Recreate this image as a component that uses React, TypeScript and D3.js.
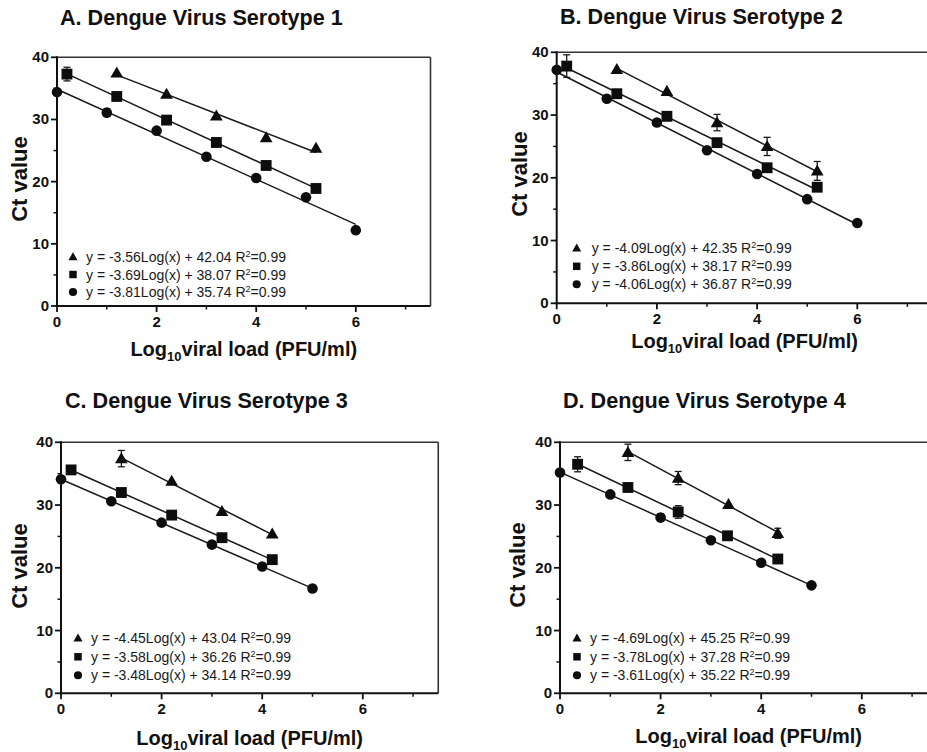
import React from "react";
import * as d3 from "d3";

// ---------- DATA ----------
// each point: [log10 viral load, Ct value, error (sd)]
const aTriangle = [[1.2, 37.5, 0], [2.2, 34.1, 0], [3.2, 30.6, 0], [4.2, 27.1, 0], [5.2, 25.4, 0]];
const aSquare = [[0.2, 37.3, 1.1], [1.2, 33.7, 0], [2.2, 29.9, 0], [3.2, 26.3, 0], [4.2, 22.6, 0], [5.2, 18.9, 0]];
const aCircle = [[0, 34.4, 0], [1, 31.1, 0.6], [2, 28.2, 0], [3, 24.0, 0], [4, 20.6, 0], [5, 17.5, 0], [6, 12.2, 0]];

const bTriangle = [[1.2, 37.3, 0], [2.2, 33.8, 0], [3.2, 28.8, 1.3], [4.2, 25.0, 1.45], [5.2, 21.1, 1.5]];
const bSquare = [[0.2, 37.8, 1.8], [1.2, 33.4, 0], [2.2, 29.8, 0], [3.2, 25.6, 0], [4.2, 21.6, 0.6], [5.2, 18.5, 0]];
const bCircle = [[0, 37.2, 0], [1, 32.6, 0], [2, 28.8, 0], [3, 24.4, 0], [4, 20.6, 0], [5, 16.6, 0], [6, 12.8, 0]];

const cTriangle = [[1.2, 37.4, 1.3], [2.2, 33.8, 0], [3.2, 29.0, 0], [4.2, 25.4, 0]];
const cSquare = [[0.2, 35.6, 0.5], [1.2, 32.0, 0], [2.2, 28.4, 0], [3.2, 24.8, 0], [4.2, 21.3, 0]];
const cCircle = [[0, 34.1, 0], [1, 30.6, 0], [2, 27.2, 0], [3, 23.7, 0], [4, 20.2, 0], [5, 16.7, 0]];

const dTriangle = [[1.35, 38.4, 1.3], [2.35, 34.3, 1.05], [3.35, 30.1, 0], [4.33, 25.5, 0.8]];
const dSquare = [[0.35, 36.5, 1.2], [1.35, 32.8, 0], [2.35, 28.9, 1.0], [3.33, 25.1, 0], [4.33, 21.4, 0]];
const dCircle = [[0, 35.2, 0], [1, 31.7, 0], [2, 28.0, 0.6], [3, 24.4, 0], [4, 20.8, 0], [5, 17.2, 0]];

const titles = [
  "A. Dengue Virus Serotype 1",
  "B. Dengue Virus Serotype 2",
  "C. Dengue Virus Serotype 3",
  "D. Dengue Virus Serotype 4",
];

// legend equations: [before superscript, after]
const aEquations = ["y = -3.56Log(x) + 42.04 R", "y = -3.69Log(x) + 38.07 R", "y = -3.81Log(x) + 35.74 R"];
const bEquations = ["y = -4.09Log(x) + 42.35 R", "y = -3.86Log(x) + 38.17 R", "y = -4.06Log(x) + 36.87 R"];
const cEquations = ["y = -4.45Log(x) + 43.04 R", "y = -3.58Log(x) + 36.26 R", "y = -3.48Log(x) + 34.14 R"];
const dEquations = ["y = -4.69Log(x) + 45.25 R", "y = -3.78Log(x) + 37.28 R", "y = -3.61Log(x) + 35.22 R"];
const rSquared = "=0.99";

const xMajorTicks = [0, 2, 4, 6];
const xMinorTicks = [1, 3, 5, 7];
const yMajorTicks = [0, 10, 20, 30, 40];
const yMinorTicks = [5, 15, 25, 35];
const xDomain = [0, 7.5];
const yDomain = [0, 40];

// ---------- LAYOUT ----------
const FONT = "'Liberation Sans', Arial, Helvetica, sans-serif";

type Pt = number[];

const panels = [
  {
    title: titles[0], series: [aTriangle, aSquare, aCircle], eq: aEquations,
    axisX: 57, unit: 49.8, top: 57.3, bottom: 306,
    titleX: 60, titleY: 24.5, ctX: 27, ctY: 179, xlabY: 356,
    legMarker: 16, legText: 29, legRows: [-49, -31.5, -14],
  },
  {
    title: titles[1], series: [bTriangle, bSquare, bCircle], eq: bEquations,
    axisX: 556.7, unit: 50.1, top: 52.3, bottom: 303.3,
    titleX: 560, titleY: 23.5, ctX: 527, ctY: 174, xlabY: 348,
    legMarker: 20, legText: 35, legRows: [-55, -37, -19],
  },
  {
    title: titles[2], series: [cTriangle, cSquare, cCircle], eq: cEquations,
    axisX: 61, unit: 50.3, top: 442.3, bottom: 693.3,
    titleX: 65, titleY: 407.5, ctX: 27, ctY: 566, xlabY: 745,
    legMarker: 17, legText: 30, legRows: [-55, -36.5, -18],
  },
  {
    title: titles[3], series: [dTriangle, dSquare, dCircle], eq: dEquations,
    axisX: 560, unit: 50.3, top: 442.3, bottom: 693.3,
    titleX: 563, titleY: 408, ctX: 525, ctY: 565, xlabY: 743,
    legMarker: 17, legText: 30, legRows: [-55, -36.5, -18],
  },
];

const symbolTypes = [d3.symbolTriangle, d3.symbolSquare, d3.symbolCircle];
const markerSizes = [70, 118, 88];
const legendSizes = [36, 56, 52];

function fit(points: Pt[]) {
  const mx = d3.mean(points, (p) => p[0]) as number;
  const my = d3.mean(points, (p) => p[1]) as number;
  const sxy = d3.sum(points, (p) => (p[0] - mx) * (p[1] - my));
  const sxx = d3.sum(points, (p) => (p[0] - mx) * (p[0] - mx));
  const slope = sxy / sxx;
  const intercept = my - slope * mx;
  const x0 = d3.min(points, (p) => p[0]) as number;
  const x1 = d3.max(points, (p) => p[0]) as number;
  return [[x0, intercept + slope * x0], [x1, intercept + slope * x1]];
}

function Panel({ p }: { p: (typeof panels)[number] }) {
  const x = d3.scaleLinear().domain(xDomain).range([p.axisX, p.axisX + p.unit * (xDomain[1] - xDomain[0])]);
  const y = d3.scaleLinear().domain(yDomain).range([p.bottom, p.top]);
  const line = d3.line<number[]>().x((d) => x(d[0])).y((d) => y(d[1]));
  const right = x(xDomain[1]);
  const xMid = (x(xDomain[0]) + right) / 2;

  return (
    <g>
      <text x={p.titleX} y={p.titleY} fontFamily={FONT} fontWeight="bold" fontSize={21.6} fill="#111">
        {p.title}
      </text>

      {/* frame top / right */}
      <line x1={x(0)} x2={right} y1={y(40)} y2={y(40)} stroke="#333" strokeWidth={1.6} />
      <line x1={right} x2={right} y1={y(40)} y2={y(0)} stroke="#333" strokeWidth={1.6} />

      {/* regression lines */}
      {p.series.map((s, i) => (
        <path key={"l" + i} d={line(fit(s)) || ""} stroke="#1a1a1a" strokeWidth={1.5} fill="none" />
      ))}

      {/* error bars */}
      {p.series.map((s, i) =>
        s.filter((d) => d[2] > 0).map((d, j) => {
          const cx = x(d[0]);
          const yt = y(d[1] + d[2]);
          const yb = y(d[1] - d[2]);
          return (
            <g key={"e" + i + "-" + j} stroke="#1a1a1a" strokeWidth={1.3}>
              <line x1={cx} x2={cx} y1={yt} y2={yb} />
              <line x1={cx - 3.5} x2={cx + 3.5} y1={yt} y2={yt} />
              <line x1={cx - 3.5} x2={cx + 3.5} y1={yb} y2={yb} />
            </g>
          );
        })
      )}

      {/* markers */}
      {p.series.map((s, i) =>
        s.map((d, j) => (
          <path
            key={"m" + i + "-" + j}
            transform={`translate(${x(d[0])},${y(d[1]) + (i === 0 ? 1 : 0)})`}
            d={d3.symbol().type(symbolTypes[i]).size(markerSizes[i])() || ""}
            fill="#0d0d0d"
          />
        ))
      )}

      {/* axes */}
      <line x1={x(0)} x2={x(0)} y1={y(40) - 1} y2={y(0) + 1} stroke="#111" strokeWidth={2} />
      <line x1={x(0) - 1} x2={right} y1={y(0)} y2={y(0)} stroke="#111" strokeWidth={2} />

      {yMajorTicks.map((t) => (
        <g key={"ym" + t}>
          <line x1={x(0) - 6} x2={x(0)} y1={y(t)} y2={y(t)} stroke="#111" strokeWidth={1.8} />
          <text x={x(0) - 8} y={y(t) + 5} textAnchor="end" fontFamily={FONT} fontWeight="bold" fontSize={15} fill="#111">
            {t}
          </text>
        </g>
      ))}
      {yMinorTicks.map((t) => (
        <line key={"yn" + t} x1={x(0) - 3.5} x2={x(0)} y1={y(t)} y2={y(t)} stroke="#111" strokeWidth={1.5} />
      ))}
      {xMajorTicks.map((t) => (
        <g key={"xm" + t}>
          <line x1={x(t)} x2={x(t)} y1={y(0)} y2={y(0) + 6} stroke="#111" strokeWidth={1.8} />
          <text x={x(t)} y={y(0) + 21} textAnchor="middle" fontFamily={FONT} fontWeight="bold" fontSize={15} fill="#111">
            {t}
          </text>
        </g>
      ))}
      {xMinorTicks.map((t) => (
        <line key={"xn" + t} x1={x(t)} x2={x(t)} y1={y(0)} y2={y(0) + 3.5} stroke="#111" strokeWidth={1.5} />
      ))}

      {/* axis titles */}
      <text
        transform={`translate(${p.ctX},${p.ctY}) rotate(-90)`}
        textAnchor="middle"
        fontFamily={FONT}
        fontWeight="bold"
        fontSize={22}
        fill="#111"
      >
        Ct value
      </text>
      <text x={xMid} y={p.xlabY} textAnchor="middle" fontFamily={FONT} fontWeight="bold" fontSize={20} fill="#111">
        Log<tspan fontSize={13} dy={5}>10</tspan>
        <tspan dy={-5}>viral load (PFU/ml)</tspan>
      </text>

      {/* legend */}
      {p.eq.map((e, i) => {
        const ly = y(0) + p.legRows[i];
        return (
          <g key={"lg" + i}>
            <path
              transform={`translate(${x(0) + p.legMarker},${ly + (i === 0 ? 0.5 : 0)})`}
              d={d3.symbol().type(symbolTypes[i]).size(legendSizes[i])() || ""}
              fill="#0d0d0d"
            />
            <text x={x(0) + p.legText} y={ly + 5} fontFamily={FONT} fontSize={14} fill="#1a1a1a">
              {e}
              <tspan fontSize={9} dy={-5}>2</tspan>
              <tspan dy={5}>{rSquared}</tspan>
            </text>
          </g>
        );
      })}
    </g>
  );
}

export default function App() {
  return (
    <svg
      width={927}
      height={752}
      viewBox="0 0 927 752"
      style={{ position: "absolute", left: 0, top: 0, background: "#fff" }}
    >
      <rect width={927} height={752} fill="#fff" />
      {panels.map((p, i) => (
        <Panel key={i} p={p} />
      ))}
    </svg>
  );
}
